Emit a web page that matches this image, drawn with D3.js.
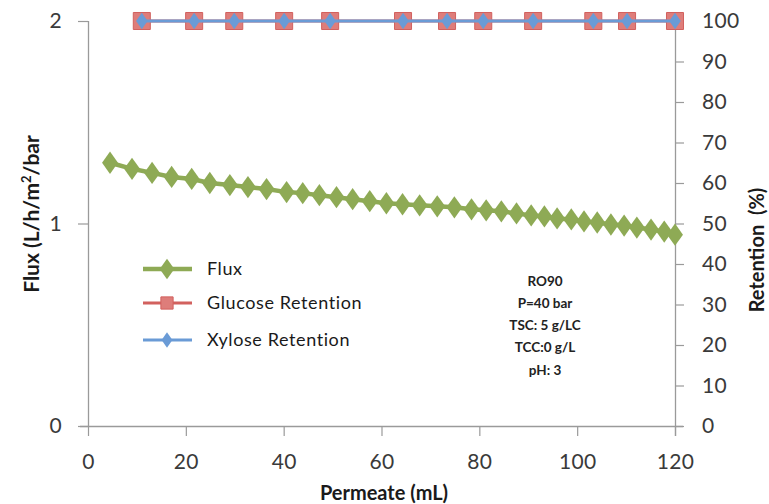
<!DOCTYPE html>
<html><head><meta charset="utf-8">
<script src="https://cdn.jsdelivr.net/npm/d3@7"></script>
<style>body{margin:0;background:#fff}svg{display:block}text{font-family:Lato,"Open Sans",sans-serif}</style>
</head><body><svg id="c" width="769" height="504"></svg>
<script>
const fluxX = [4.5,9.0,13.1,17.1,21.2,24.9,29.0,32.7,36.5,40.6,43.9,47.3,50.8,54.1,57.6,61.0,64.3,67.8,71.4,74.9,78.4,81.4,84.5,87.6,90.6,93.3,95.9,98.8,101.4,104.1,106.9,109.6,112.2,115.1,117.8,120.0];
const fluxY = [1.30,1.27,1.25,1.23,1.22,1.20,1.19,1.18,1.17,1.155,1.15,1.14,1.13,1.12,1.11,1.10,1.095,1.09,1.085,1.08,1.07,1.065,1.06,1.05,1.04,1.035,1.025,1.02,1.01,1.005,0.995,0.99,0.98,0.97,0.96,0.945];
const retX = [11.0,21.7,29.9,40.1,49.5,64.4,73.4,80.8,91.0,103.3,110.2,120.0];
const glucoseRet = [100,100,100,100,100,100,100,100,100,100,100,100];
const xyloseRet = [100,100,100,100,100,100,100,100,100,100,100,100];
const xTicks = [0,20,40,60,80,100,120];
const yLeftTicks = [0,1,2];
const yRightTicks = [0,10,20,30,40,50,60,70,80,90,100];
const legendLabels = ["Flux","Glucose Retention","Xylose Retention"];
const noteLines = ["RO90","P=40 bar","TSC: 5 g/LC","TCC:0 g/L","pH: 3"];

const svg = d3.select("#c");
const L=88,R=675,T=21,B=426;
const x = d3.scaleLinear().domain([0,120]).range([L,R]);
const yL = d3.scaleLinear().domain([0,2]).range([B,T]);
const yR = d3.scaleLinear().domain([0,100]).range([B,T]);
const axisCol="#9a9a9a", txtCol="#3a3a3a";
const cFlux="#8eaa55", cGlu="#d2615e", cGluFill="#de7d7a", cXyl="#6a9bd6";

// axes
const gx = svg.append("g").attr("transform",`translate(0,${B})`)
  .call(d3.axisBottom(x).tickValues(xTicks).tickSize(10).tickPadding(18));
const gl = svg.append("g").attr("transform",`translate(${L},0)`)
  .call(d3.axisLeft(yL).tickValues(yLeftTicks).tickSize(10).tickPadding(16).tickFormat(d3.format("d")));
const gr = svg.append("g").attr("transform",`translate(${R},0)`)
  .call(d3.axisRight(yR).tickValues(yRightTicks).tickSize(9).tickPadding(18));
[gx,gl,gr].forEach(g=>{
  g.select(".domain").attr("stroke",axisCol).attr("stroke-width",1.3);
  g.selectAll(".tick line").attr("stroke",axisCol).attr("stroke-width",1.2);
  g.selectAll(".tick text").attr("fill",txtCol).style("font-size","21px").style("letter-spacing","0.3px");
});
gx.select(".domain").attr("d",`M${L-8},0.5H${R+8}`);
gl.select(".domain").attr("d",`M0.5,${T}V${B}`);
gr.select(".domain").attr("d",`M0.5,${T}V${B+10}`);

// titles
svg.append("text").attr("x",384).attr("y",500).attr("text-anchor","middle")
  .style("font-size","20px").style("font-weight","bold").attr("fill","#1a1a1a").text("Permeate (mL)");
svg.append("text").attr("transform","translate(39,214) rotate(-90)").attr("text-anchor","middle")
  .style("font-size","21px").style("font-weight","bold").attr("fill","#1a1a1a")
  .html('Flux (L/h/m<tspan font-size="13" dy="-8">2</tspan><tspan dy="8">/bar</tspan>');
svg.append("text").attr("transform","translate(764,250) rotate(-90)").attr("text-anchor","middle")
  .style("font-size","20px").style("font-weight","bold").attr("fill","#1a1a1a").attr("xml:space","preserve")
  .text("Retention  (%)");

const diamond = d3.symbol().type(d3.symbolDiamond);
const square = d3.symbol().type(d3.symbolSquare);

// flux
const fluxData = fluxX.map((v,i)=>[v,fluxY[i]]);
svg.append("path").datum(fluxData).attr("fill","none").attr("stroke",cFlux).attr("stroke-width",4.5)
  .attr("d",d3.line().x(d=>x(d[0])).y(d=>yL(d[1])));
svg.selectAll(".fd").data(fluxData).join("path").attr("fill",cFlux)
  .attr("transform",d=>`translate(${x(d[0])},${yL(d[1])}) scale(1.3,1.05)`)
  .attr("d",diamond.size(130));

// glucose
const gluData = retX.map((v,i)=>[v,glucoseRet[i]]);
svg.append("path").datum(gluData).attr("fill","none").attr("stroke",cGlu).attr("stroke-width",3)
  .attr("d",d3.line().x(d=>x(d[0])).y(d=>yR(d[1])));
svg.selectAll(".gs").data(gluData).join("path").attr("fill",cGluFill).attr("stroke",cGlu).attr("stroke-width",1)
  .attr("transform",d=>`translate(${x(d[0])},${yR(d[1])})`).attr("d",square.size(290));
// xylose
const xylData = retX.map((v,i)=>[v,xyloseRet[i]]);
svg.append("path").datum(xylData).attr("fill","none").attr("stroke",cXyl).attr("stroke-width",3)
  .attr("d",d3.line().x(d=>x(d[0])).y(d=>yR(d[1])));
svg.selectAll(".xd").data(xylData).join("path").attr("fill",cXyl)
  .attr("transform",d=>`translate(${x(d[0])},${yR(d[1])}) scale(1.2,1)`).attr("d",diamond.size(80));

// legend
const lg = svg.append("g");
const ly = [269,303,340];
const lcol = [cFlux,cGlu,cXyl];
legendLabels.forEach((t,i)=>{
  lg.append("line").attr("x1",143).attr("x2",192).attr("y1",ly[i]).attr("y2",ly[i])
    .attr("stroke",lcol[i]).attr("stroke-width",i===0?4.5:3);
  if(i===0) lg.append("path").attr("fill",cFlux).attr("transform",`translate(167,${ly[i]}) scale(1.3,1.05)`).attr("d",diamond.size(110));
  if(i===1) lg.append("path").attr("fill",cGluFill).attr("stroke",cGlu).attr("transform",`translate(167,${ly[i]})`).attr("d",square.size(150));
  if(i===2) lg.append("path").attr("fill",cXyl).attr("transform",`translate(167,${ly[i]}) scale(1.2,1)`).attr("d",diamond.size(70));
  lg.append("text").attr("x",207).attr("y",ly[i]+6).style("font-size","18px").style("letter-spacing","0.6px").attr("fill","#1a1a1a").text(t);
});

// note
const ny=[281,303,325,347,370];
noteLines.forEach((t,i)=>{
  svg.append("text").attr("x",545).attr("y",ny[i]+5).attr("text-anchor","middle")
    .style("font-size","13.5px").style("font-weight","bold").attr("fill","#222").text(t);
});
</script></body></html>
